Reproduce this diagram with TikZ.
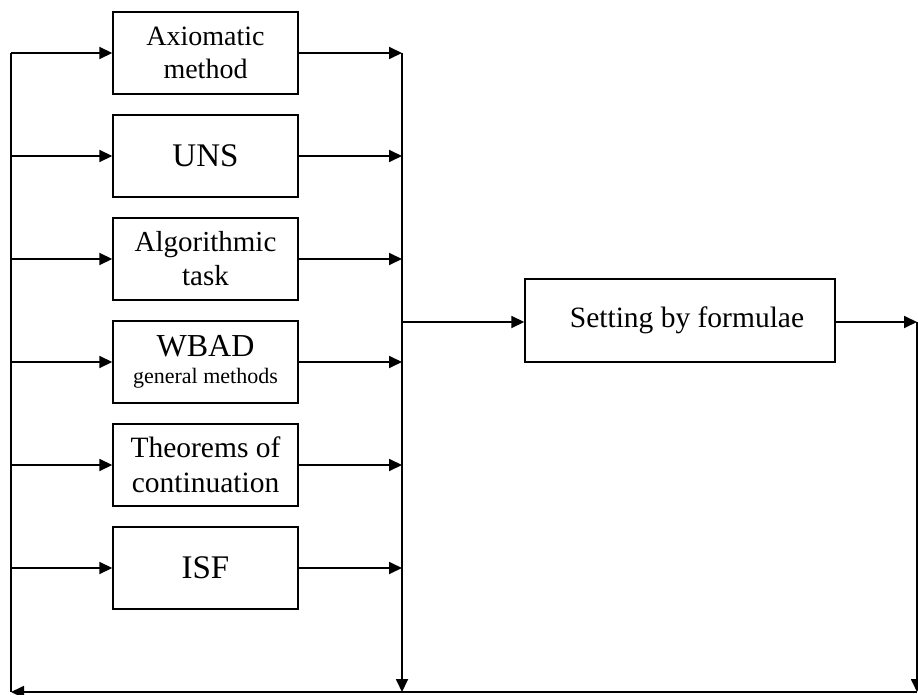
\documentclass[tikz,border=0pt]{standalone}
\usepackage{fontspec}
\setmainfont{Liberation Serif}
\usetikzlibrary{arrows.meta}
\newcommand{\fsz}[2]{\fontsize{#1}{#2}\selectfont}
\tikzset{
  blk/.style={draw, line width=1.4pt, minimum width=185pt, minimum height=82pt,
    inner sep=0pt, align=center},
  wire/.style={line width=1.8pt},
  arr/.style={wire, -{Triangle[length=13pt,width=12pt]}},
}
\begin{document}
\begin{tikzpicture}[x=1pt,y=-1pt]
\useasboundingbox (0,0) rectangle (918,695);

% method boxes
\node[blk, font=\fsz{28}{33}] (b1) at (205.5,53)  {Axiomatic\\method};
\node[blk, font=\fsz{33}{36}] (b2) at (205.5,156) {UNS};
\node[blk, font=\fsz{29}{34}] (b3) at (205.5,259) {Algorithmic\\task};
\node[blk, font=\fsz{32}{29}] (b4) at (205.5,362)
  {WBAD\\[-2pt]{\fsz{22}{24}general methods}};
\node[blk, font=\fsz{29.5}{35}] (b5) at (205.5,465) {Theorems of\\continuation};
\node[blk, font=\fsz{33}{36}] (b6) at (205.5,568) {ISF};

% result box; the leading space nudges the label a little to the right
\node[blk, align=left, font=\fsz{29.5}{34}, minimum width=310pt, minimum height=83pt]
  (sf) at (680,320.5) {\hspace*{14pt}Setting by formulae};

% bus lines
\coordinate (lt) at (11,53);
\coordinate (lb) at (11,692);
\coordinate (mt) at (402,53);
\coordinate (mb) at (402,692);
\coordinate (ms) at (402,322);
\coordinate (rt) at (917,322);
\coordinate (rb) at (917,692);

\draw[wire] (lt) -- (lb);
\draw[arr] (rb) -- (lb);
\draw[arr] (mt) -- (mb);
\draw[arr] (rt) -- (rb);

% inputs and outputs of each method box
\foreach \b/\y in {b1/53,b2/156,b3/259,b4/362,b5/465,b6/568}{
  \draw[arr] (11,\y) -- (\b.west);
  \draw[arr] (\b.east) -- (402,\y);
}

\draw[arr] (ms) -- (ms -| sf.west);
\draw[arr] (sf.east |- rt) -- (rt);
\end{tikzpicture}
\end{document}
